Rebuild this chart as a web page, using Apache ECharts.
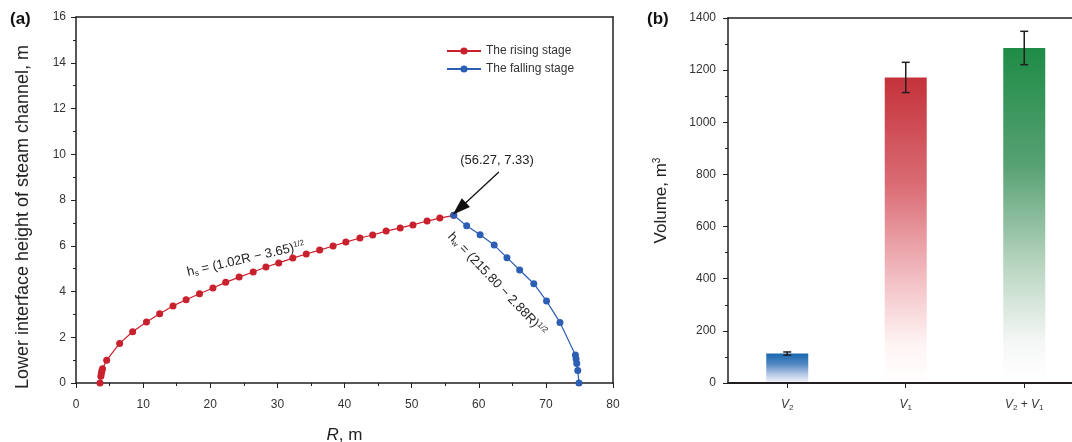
<!DOCTYPE html>
<html>
<head>
<meta charset="utf-8">
<script src="https://cdn.jsdelivr.net/npm/echarts@6/dist/echarts.min.js"></script>
<style>html,body{margin:0;padding:0;background:#fff}#c{width:1072px;height:442px}</style>
</head>
<body>
<div id="c"></div>
<script>
// ---- Panel (a) data: R (m), h (m)
var risingR = [3.58, 3.7, 3.78, 3.85, 3.95, 4.57, 6.5, 8.44, 10.5, 12.46, 14.45, 16.4, 18.4, 20.4, 22.3, 24.3, 26.4, 28.3, 30.2, 32.3, 34.3, 36.3, 38.3, 40.2, 42.3, 44.2, 46.2, 48.3, 50.2, 52.3, 54.2, 56.27];
var risingH = [0, 0.3, 0.42, 0.52, 0.62, 1.0, 1.73, 2.24, 2.67, 3.03, 3.37, 3.64, 3.9, 4.15, 4.4, 4.63, 4.85, 5.07, 5.25, 5.46, 5.64, 5.81, 5.99, 6.16, 6.34, 6.47, 6.64, 6.78, 6.91, 7.08, 7.21, 7.33];
var fallingR = [56.27, 58.2, 60.2, 62.3, 64.2, 66.1, 68.2, 70.1, 72.1, 74.4, 74.5, 74.6, 74.75, 74.93];
var fallingH = [7.33, 6.87, 6.48, 6.03, 5.48, 4.94, 4.34, 3.58, 2.65, 1.22, 1.05, 0.85, 0.55, 0];
var xTicksA = [0, 80, 10];   // min, max, interval
var yTicksA = [0, 16, 2];

// ---- Panel (b) data
var barCats = ['V2', 'V1', 'V2 + V1'];
var barPos = [0, 1, 2];
var barValues = [113, 1172, 1285];
var barErrors = [6, 58, 64];
var yTicksB = [0, 1400, 200];

function zip(a, b) { return a.map(function (v, i) { return [v, b[i]]; }); }

var barColors = [
  [[0, '#1768ae'], [0.35, '#4f86c2'], [0.7, '#b5c8e6'], [1, '#f6f7fc']],
  [[0, '#c4323a'], [0.35, '#da6c74'], [0.65, '#f2bcc1'], [0.88, '#fff5f5'], [1, '#ffffff']],
  [[0, '#1e8c46'], [0.35, '#57a173'], [0.65, '#b9d5c1'], [0.88, '#f5f7f6'], [1, '#ffffff']]
];
function grad(c) {
  return new echarts.graphic.LinearGradient(0, 0, 0, 1, c.map(function (s) { return {offset: s[0], color: s[1]}; }));
}

var axisCol = '#231f20';
var labCol = '#333';
var ff = 'Liberation Sans, Arial, sans-serif';

function baseAxis(extra) {
  var o = {
    axisLine: {show: true, onZero: false, lineStyle: {color: axisCol, width: 1.5}},
    axisTick: {show: true, inside: false, length: 5, lineStyle: {color: axisCol, width: 1}},
    minorTick: {show: true, splitNumber: 2, length: 3, lineStyle: {color: axisCol, width: 1}},
    splitLine: {show: false},
    axisLabel: {color: labCol, fontSize: 12, fontFamily: ff, margin: 10}
  };
  for (var k in extra) o[k] = extra[k];
  return o;
}
function frameAxis(type, pos, gi, extra) {
  var o = {
    type: type, gridIndex: gi, position: pos,
    axisLine: {show: true, onZero: false, lineStyle: {color: axisCol, width: 1.5}},
    axisTick: {show: false}, axisLabel: {show: false}, splitLine: {show: false}
  };
  for (var k in extra) o[k] = extra[k];
  return o;
}
var subRich = {
  i: {fontStyle: 'italic', fontSize: 12, color: labCol, fontFamily: ff},
  n: {fontSize: 12, color: labCol, fontFamily: ff},
  s: {fontSize: 8, color: labCol, fontFamily: ff, verticalAlign: 'bottom', padding: [6, 0, 0, 0]}
};

var chart = echarts.init(document.getElementById('c'), null, {renderer: 'canvas'});

var option = {
  backgroundColor: '#fff',
  animation: false,
  textStyle: {fontFamily: ff},
  grid: [
    {left: 76, right: 459, top: 17, bottom: 59, outerBoundsMode: 'none', containLabel: false},
    {left: 728, right: 0, top: 18, bottom: 59, outerBoundsMode: 'none', containLabel: false}
  ],
  legend: {
    data: ['The rising stage', 'The falling stage'],
    orient: 'vertical', left: 441, top: 40, itemWidth: 34, itemHeight: 9, itemGap: 6,
    textStyle: {color: '#333', fontSize: 12, fontFamily: ff}
  },
  xAxis: [
    baseAxis({type: 'value', gridIndex: 0, min: xTicksA[0], max: xTicksA[1], interval: xTicksA[2],
      axisLabel: {color: labCol, fontSize: 12, fontFamily: ff, margin: 16},
      name: '{i|R}{n|, m}', nameLocation: 'middle', nameGap: 44,
      nameTextStyle: {fontSize: 17, color: '#222', fontFamily: ff,
        rich: {i: {fontStyle: 'italic', fontSize: 17, color: '#222', fontFamily: ff},
               n: {fontSize: 17, color: '#222', fontFamily: ff}}}
    }),
    frameAxis('value', 'top', 0, {min: xTicksA[0], max: xTicksA[1]}),
    {type: 'value', gridIndex: 1, position: 'bottom', min: -0.5, max: 2.403, z: 10,
      axisLine: {show: true, onZero: false, lineStyle: {color: axisCol, width: 2}},
      axisTick: {show: true, customValues: barPos, length: 5, lineStyle: {color: axisCol, width: 1}},
      minorTick: {show: false}, splitLine: {show: false},
      axisLabel: {show: true, customValues: barPos, color: labCol, fontSize: 12, fontFamily: ff, margin: 15,
        formatter: function (v) {
          var c = barCats[Math.round(v)];
          if (c === 'V2') return '{i|V}{s|2}';
          if (c === 'V1') return '{i|V}{s|1}';
          return '{i|V}{s|2}{n| + }{i|V}{s|1}';
        },
        rich: subRich
      }
    },
    frameAxis('value', 'top', 1, {min: -0.5, max: 2.403})
  ],
  yAxis: [
    baseAxis({type: 'value', gridIndex: 0, min: yTicksA[0], max: yTicksA[1], interval: yTicksA[2]}),
    frameAxis('value', 'right', 0, {min: yTicksA[0], max: yTicksA[1]}),
    baseAxis({type: 'value', gridIndex: 1, min: yTicksB[0], max: yTicksB[1], interval: yTicksB[2],
      axisLabel: {color: labCol, fontSize: 12, fontFamily: ff, margin: 12, formatter: function (v) { return String(v); }},
      name: '{t|Volume, m}{s|3}', nameLocation: 'middle', nameGap: 58,
      nameTextStyle: {fontSize: 17, color: '#222', fontFamily: ff,
        rich: {t: {fontSize: 17, color: '#222', fontFamily: ff},
               s: {fontSize: 10, color: '#222', fontFamily: ff, verticalAlign: 'top', padding: [0, 0, 8, 0]}}}
    })
  ],
  series: [
    {
      name: 'The rising stage', type: 'line', xAxisIndex: 0, yAxisIndex: 0,
      data: zip(risingR, risingH), symbol: 'circle', symbolSize: 7,
      lineStyle: {color: '#c8202c', width: 1.2}, itemStyle: {color: '#c8202c'}
    },
    {
      name: 'The falling stage', type: 'line', xAxisIndex: 0, yAxisIndex: 0,
      data: zip(fallingR, fallingH), symbol: 'circle', symbolSize: 7,
      lineStyle: {color: '#2c5fb3', width: 1.2}, itemStyle: {color: '#2c5fb3'},
      markLine: {
        silent: true, animation: false,
        lineStyle: {color: '#111', width: 1.3, type: 'solid'},
        label: {show: false},
        symbolSize: [12, 18],
        data: [[{coord: [63.0, 9.22], symbol: 'none'}, {coord: [57.1, 7.62], symbol: 'triangle'}]]
      },
      z: 3
    },
    {
      name: 'Volume', type: 'bar', xAxisIndex: 2, yAxisIndex: 2,
      barWidth: 42,
      data: barValues.map(function (v, i) { return {value: [barPos[i], v], itemStyle: {color: grad(barColors[i])}}; })
    },
    {
      name: 'err', type: 'custom', xAxisIndex: 2, yAxisIndex: 2, z: 5,
      data: barValues.map(function (v, i) { return [barPos[i], v - barErrors[i], v + barErrors[i]]; }),
      renderItem: function (params, api) {
        var x = api.value(0);
        var lo = api.coord([x, api.value(1)]);
        var hi = api.coord([x, api.value(2)]);
        var w = 4;
        var st = {stroke: '#231f20', lineWidth: 1.5};
        return {type: 'group', children: [
          {type: 'line', shape: {x1: lo[0], y1: lo[1], x2: hi[0], y2: hi[1]}, style: st},
          {type: 'line', shape: {x1: lo[0] - w, y1: lo[1], x2: lo[0] + w, y2: lo[1]}, style: st},
          {type: 'line', shape: {x1: hi[0] - w, y1: hi[1], x2: hi[0] + w, y2: hi[1]}, style: st}
        ]};
      }
    }
  ],
  graphic: [
    {type: 'text', left: 10, top: 11, style: {text: '(a)', font: 'bold 17px ' + ff, fill: '#111'}},
    {type: 'text', left: 647, top: 11, style: {text: '(b)', font: 'bold 17px ' + ff, fill: '#111'}},
    {type: 'text', x: 23, y: 217, rotation: Math.PI / 2,
      style: {text: 'Lower interface height of steam channel, m', font: '18px ' + ff, fill: '#222', align: 'center', verticalAlign: 'middle'}},
    {type: 'text', x: 497, y: 160, style: {text: '(56.27, 7.33)', font: '13px ' + ff, fill: '#222', align: 'center', verticalAlign: 'middle'}},
    {type: 'text', x: 246, y: 259, rotation: 0.225,
      style: {text: '{n|h}{s|s}{n| = (1.02R − 3.65)}{p|1/2}', align: 'center', verticalAlign: 'middle',
        rich: {n: {fontSize: 13, fontFamily: ff, fill: '#222'},
               s: {fontSize: 8, fontFamily: ff, fill: '#222', verticalAlign: 'bottom', padding: [5, 0, 0, 0]},
               p: {fontSize: 8, fontFamily: ff, fill: '#222', verticalAlign: 'top', padding: [0, 0, 6, 0]}}}},
    {type: 'text', x: 497, y: 284, rotation: -0.81,
      style: {text: '{n|h}{s|w}{n| = (215.80 − 2.88R)}{p|1/2}', align: 'center', verticalAlign: 'middle',
        rich: {n: {fontSize: 13, fontFamily: ff, fill: '#222'},
               s: {fontSize: 8, fontFamily: ff, fill: '#222', verticalAlign: 'bottom', padding: [5, 0, 0, 0]},
               p: {fontSize: 8, fontFamily: ff, fill: '#222', verticalAlign: 'top', padding: [0, 0, 6, 0]}}}}
  ]
};
chart.setOption(option);
</script>
</body>
</html>
